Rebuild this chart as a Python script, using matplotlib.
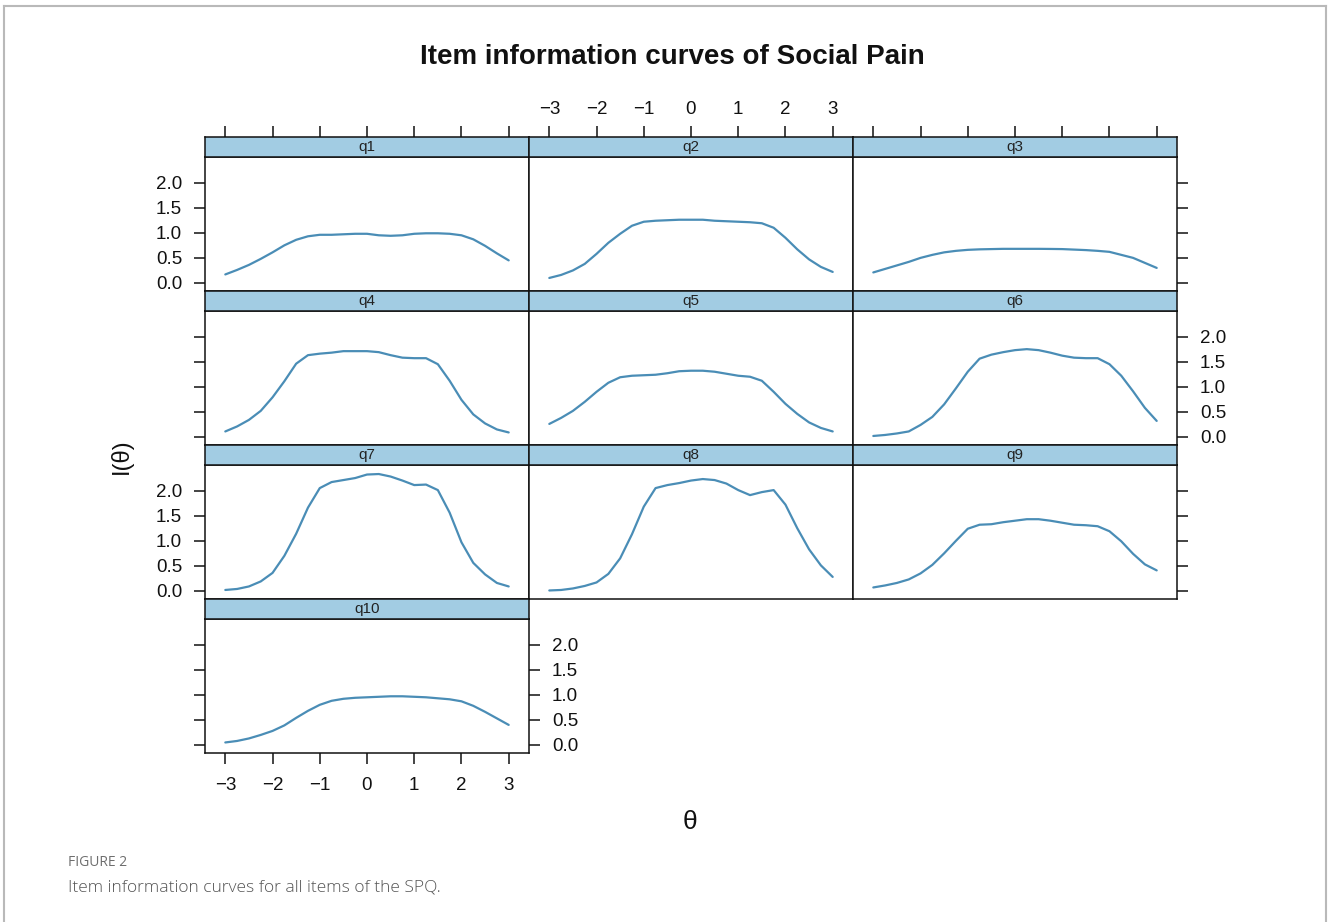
import matplotlib
matplotlib.use('Agg')
import matplotlib.pyplot as plt
from matplotlib.lines import Line2D

# ---------------- data ----------------
theta = [-3.0, -2.75, -2.5, -2.25, -2.0, -1.75, -1.5, -1.25, -1.0, -0.75, -0.5, -0.25,
         0.0, 0.25, 0.5, 0.75, 1.0, 1.25, 1.5, 1.75, 2.0, 2.25, 2.5, 2.75, 3.0]

q1 = [0.17, 0.26, 0.36, 0.48, 0.61, 0.75, 0.86, 0.93, 0.96, 0.96, 0.97, 0.98,
      0.98, 0.95, 0.94, 0.95, 0.98, 0.99, 0.99, 0.98, 0.95, 0.87, 0.74, 0.59, 0.45]
q2 = [0.10, 0.16, 0.25, 0.38, 0.58, 0.80, 0.98, 1.14, 1.22, 1.24, 1.25, 1.26,
      1.26, 1.26, 1.24, 1.23, 1.22, 1.21, 1.19, 1.10, 0.90, 0.67, 0.47, 0.32, 0.22]
q3 = [0.21, 0.28, 0.35, 0.42, 0.50, 0.56, 0.61, 0.64, 0.66, 0.67, 0.675, 0.68,
      0.68, 0.68, 0.68, 0.678, 0.675, 0.665, 0.655, 0.64, 0.62, 0.56, 0.50, 0.40, 0.30]
q4 = [0.11, 0.21, 0.34, 0.52, 0.79, 1.11, 1.46, 1.63, 1.66, 1.68, 1.71, 1.71,
      1.71, 1.69, 1.63, 1.58, 1.57, 1.57, 1.45, 1.12, 0.74, 0.45, 0.27, 0.15, 0.09]
q5 = [0.26, 0.38, 0.52, 0.70, 0.90, 1.08, 1.19, 1.22, 1.23, 1.24, 1.27, 1.31,
      1.32, 1.32, 1.30, 1.26, 1.22, 1.20, 1.12, 0.90, 0.66, 0.46, 0.29, 0.18, 0.11]
q6 = [0.02, 0.04, 0.07, 0.11, 0.24, 0.40, 0.65, 0.97, 1.30, 1.56, 1.64, 1.69,
      1.73, 1.75, 1.73, 1.68, 1.62, 1.58, 1.57, 1.57, 1.45, 1.22, 0.91, 0.58, 0.32]
q7 = [0.02, 0.04, 0.09, 0.19, 0.36, 0.70, 1.14, 1.66, 2.05, 2.17, 2.21, 2.25,
      2.32, 2.33, 2.28, 2.20, 2.11, 2.12, 2.01, 1.56, 0.97, 0.56, 0.33, 0.16, 0.09]
q8 = [0.01, 0.02, 0.05, 0.10, 0.17, 0.34, 0.65, 1.13, 1.68, 2.05, 2.11, 2.15,
      2.20, 2.23, 2.21, 2.14, 2.01, 1.91, 1.97, 2.01, 1.72, 1.25, 0.83, 0.51, 0.28]
q9 = [0.07, 0.11, 0.16, 0.23, 0.35, 0.52, 0.75, 1.00, 1.24, 1.32, 1.33, 1.37,
      1.40, 1.43, 1.43, 1.40, 1.36, 1.32, 1.31, 1.29, 1.19, 0.99, 0.74, 0.53, 0.41]
q10 = [0.05, 0.08, 0.13, 0.20, 0.28, 0.39, 0.54, 0.68, 0.80, 0.88, 0.92, 0.94,
       0.95, 0.96, 0.97, 0.97, 0.96, 0.95, 0.93, 0.91, 0.87, 0.78, 0.66, 0.53, 0.40]

items = ['q1', 'q2', 'q3', 'q4', 'q5', 'q6', 'q7', 'q8', 'q9', 'q10']
series = [q1, q2, q3, q4, q5, q6, q7, q8, q9, q10]

x_ticks = [-3, -2, -1, 0, 1, 2, 3]
x_ticklabels = ['\u22123', '\u22122', '\u22121', '0', '1', '2', '3']
y_ticks = [0.0, 0.5, 1.0, 1.5, 2.0]
y_ticklabels = ['0.0', '0.5', '1.0', '1.5', '2.0']

title = 'Item information curves of Social Pain'
ylab = 'I(\u03b8)'
xlab = '\u03b8'
cap_head = 'FIGURE 2'
cap_text = 'Item information curves for all items of the SPQ.'

# ---------------- style ----------------
W, H = 1328, 922
LINE_COL = '#4a8db6'
STRIP_COL = '#a2cce3'
FONT = 'Liberation Sans'
plt.rcParams['font.family'] = [FONT, 'DejaVu Sans']
XLIM = (-3.43, 3.43)
YLIM = (-0.16, 2.51)
TICK_BASE = dict(direction='out', length=8, width=1.1, labelsize=13.5, colors='#111111')

fig = plt.figure(figsize=(W / 100, H / 100), dpi=100)


def fx(px):
    return px / W


def fy(py):
    return 1 - py / H


ncol = 3
col_w = 324
row_pitch = 154
strip_h = 20
panel_h = 134

for i, (name, vals) in enumerate(zip(items, series)):
    r, c = divmod(i, ncol)
    left = 205 + col_w * c
    stop = 137 + row_pitch * r
    ptop = stop + strip_h
    pbot = ptop + panel_h

    ax = fig.add_axes([fx(left), fy(pbot), col_w / W, panel_h / H])
    sax = fig.add_axes([fx(left), fy(ptop), col_w / W, strip_h / H])

    ax.plot(theta, vals, color=LINE_COL, lw=1.6, solid_capstyle='round')
    ax.set_xlim(XLIM)
    ax.set_ylim(YLIM)
    for sp in ax.spines.values():
        sp.set_linewidth(1.1)
        sp.set_color('#111111')

    # strip
    sax.set_facecolor(STRIP_COL)
    sax.set_xlim(XLIM)
    sax.set_ylim(0, 1)
    sax.text(0.5, 0.5, name, transform=sax.transAxes, ha='center', va='center',
             fontsize=11, color='#222222')
    for sp in sax.spines.values():
        sp.set_linewidth(1.1)
        sp.set_color('#111111')
    sax.set_yticks([])

    # strip: top ticks only for first row
    if r == 0:
        sax.set_xticks(x_ticks)
        sax.xaxis.set_ticks_position('top')
        sax.tick_params(axis='x', pad=5.5, **TICK_BASE)
        if c == 1:
            sax.set_xticklabels(x_ticklabels)
        else:
            sax.set_xticklabels([])
    else:
        sax.set_xticks([])

    # y-axis ticks
    last_in_row = (c == ncol - 1) or (i == len(items) - 1)
    first_in_row = (c == 0)
    left_lab = (r % 2 == 0)
    ax.set_yticks(y_ticks)
    ax.set_yticklabels(y_ticklabels)
    ax.tick_params(axis='y', pad=8.5, **TICK_BASE,
                   left=first_in_row, right=last_in_row,
                   labelleft=first_in_row and left_lab,
                   labelright=last_in_row and not left_lab)

    # x-axis: bottom ticks only for the last panel (q10)
    if i == len(items) - 1:
        ax.set_xticks(x_ticks)
        ax.set_xticklabels(x_ticklabels)
        ax.tick_params(axis='x', pad=9, **TICK_BASE, top=False, bottom=True)
    else:
        ax.set_xticks([])

# titles and labels
fig.text(fx(672), fy(57), title, ha='center', va='center', fontsize=20,
         fontweight='bold', color='#111111')
fig.text(fx(121), fy(456), ylab, ha='center', va='center', rotation=90,
         fontsize=17, color='#111111')
fig.text(fx(690), fy(822), xlab, ha='center', va='center', fontsize=19,
         color='#111111')

# caption
fig.text(fx(68), fy(862), cap_head, ha='left', va='center', fontsize=10,
         color='#6e6e6e', family=['Open Sans', 'DejaVu Sans'])
fig.text(fx(68), fy(887), cap_text, ha='left', va='center', fontsize=12.5,
         color='#555555', family=['Open Sans', 'DejaVu Sans'], fontweight='light')

# figure frame (top, left, right)
frame_kw = dict(color='#b9b9b9', lw=1.5, transform=fig.transFigure)
fig.add_artist(Line2D([fx(4), fx(1326)], [fy(6), fy(6)], **frame_kw))
fig.add_artist(Line2D([fx(4), fx(4)], [fy(6), 0], **frame_kw))
fig.add_artist(Line2D([fx(1326), fx(1326)], [fy(6), 0], **frame_kw))

fig.savefig('out.png', dpi=100, facecolor='white')
